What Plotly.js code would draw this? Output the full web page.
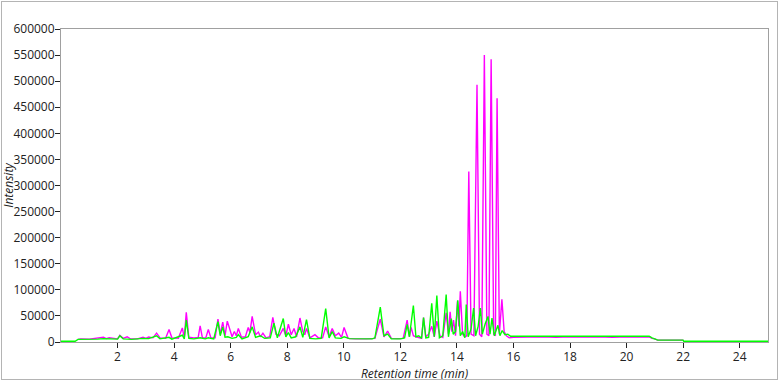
<!DOCTYPE html>
<html>
<head>
<meta charset="utf-8">
<script src="https://cdn.plot.ly/plotly-3.0.1.min.js"></script>
<style>
html,body{margin:0;padding:0;background:#fff;}
#wrap{position:relative;width:779px;height:382px;overflow:hidden;}
#chart{position:absolute;left:0;top:0;width:779px;height:382px;}
#frame{position:absolute;left:1px;top:1px;width:775px;height:377px;border:1px solid #b4b4b4;pointer-events:none;}
</style>
</head>
<body>
<div id="wrap"><div id="chart"></div><div id="frame"></div></div>
<script>
// Series 1 (magenta)
const magentaTime = [0.6,0.7,1.0,1.3,1.5,1.6,1.7,2.0,2.08,2.2,2.34,2.45,2.7,2.9,3.0,3.1,3.25,3.38,3.5,3.7,3.82,3.92,4.15,4.29,4.36,4.43,4.52,4.7,4.85,4.92,5.0,5.12,5.21,5.3,5.45,5.55,5.63,5.72,5.8,5.88,5.98,6.05,6.13,6.2,6.27,6.38,6.52,6.62,6.68,6.76,6.88,6.98,7.05,7.14,7.25,7.38,7.49,7.6,7.72,7.86,7.95,8.04,8.14,8.24,8.33,8.45,8.55,8.62,8.68,8.8,8.98,9.1,9.25,9.36,9.48,9.59,9.7,9.82,9.92,10.01,10.15,10.4,10.8,11.1,11.29,11.42,11.55,11.68,11.9,12.1,12.24,12.32,12.38,12.46,12.55,12.65,12.75,12.82,12.9,13.0,13.11,13.2,13.29,13.4,13.5,13.62,13.7,13.76,13.82,13.88,13.95,14.02,14.07,14.12,14.2,14.28,14.35,14.42,14.5,14.6,14.71,14.8,14.88,14.97,15.06,15.13,15.21,15.3,15.36,15.42,15.5,15.59,15.67,15.75,15.85,16.0,16.5,17.0,17.5,18.0,18.5,19.0,19.5,20.0,20.5,20.8,20.9,21.0,21.1,21.5,22.0];
const magentaIntensity = [5000,6000,5500,7000,9000,6500,8000,6000,13000,7000,10000,6000,6000,9000,7000,9500,8000,17000,8000,7000,24000,8000,7000,27000,8000,57000,9000,8000,8500,31000,8000,8000,24000,8000,8000,44000,15000,38000,12000,40000,20000,10000,20000,12000,26000,9000,10000,28000,18000,49000,14000,19000,10000,17000,8000,10000,47000,15000,12000,26000,12000,34000,14000,26000,10000,46000,20000,14000,26000,8000,14000,8000,8000,29000,10000,26000,12000,17000,9000,28000,7000,6000,6000,7000,44000,10000,21000,7000,6500,7000,42000,10000,28000,12000,10000,8000,7000,47000,10000,15000,30000,10000,40000,12000,9000,56000,15000,58000,20000,42000,12000,79000,30000,97000,15000,10000,12000,327000,15000,12000,493000,15000,10000,550000,15000,12000,542000,15000,12000,467000,15000,82000,20000,12000,8000,9000,9500,10000,9000,10000,9500,10000,9000,10000,9500,10000,7000,6000,3500,3500,3500];

// Series 2 (green)
const greenTime = [0,0.5,0.6,0.8,1.0,1.3,1.5,1.7,2.0,2.08,2.2,2.5,2.9,3.1,3.38,3.5,3.82,3.92,4.29,4.36,4.43,4.52,4.7,4.92,5.1,5.21,5.4,5.55,5.63,5.72,5.8,5.9,6.05,6.2,6.27,6.4,6.62,6.76,6.88,7.05,7.2,7.4,7.53,7.65,7.86,7.95,8.04,8.14,8.3,8.45,8.55,8.68,8.8,9.0,9.2,9.36,9.48,9.59,9.7,9.9,10.01,10.2,10.6,11.0,11.1,11.29,11.42,11.55,11.68,12.0,12.15,12.24,12.32,12.46,12.55,12.65,12.75,12.82,12.9,13.0,13.11,13.2,13.29,13.38,13.5,13.62,13.7,13.8,13.87,13.95,14.03,14.12,14.2,14.28,14.33,14.4,14.5,14.59,14.66,14.75,14.83,14.9,15.0,15.1,15.17,15.24,15.32,15.45,15.52,15.6,15.7,15.8,15.9,16.0,16.5,17.0,17.5,18.0,18.5,19.0,19.5,20.0,20.5,20.8,20.9,21.0,21.1,22.0,22.02,25.0];
const greenIntensity = [1500,1500,5000,5000,5500,5500,6500,6000,5500,12000,6000,5000,7000,6500,12000,6000,9000,5500,13000,6000,42000,7000,6000,8000,6000,8000,6000,39000,12000,29000,9000,10000,7000,9000,14000,6000,10000,29000,9000,12000,7000,8000,36000,8000,45000,10000,18000,8000,10000,29000,9000,43000,7000,6000,7000,64000,8000,20000,8000,7000,10000,6500,6000,6000,8000,67000,12000,15000,6000,6000,8000,34000,10000,70000,10000,12000,7000,47000,8000,9000,74000,10000,89000,8000,12000,91000,10000,45000,15000,20000,80000,12000,20000,8000,72000,10000,25000,65000,12000,30000,65000,15000,35000,49000,15000,46000,12000,32000,12000,22000,14000,15000,11000,11000,11000,10500,11000,11000,10500,11000,11000,10500,11000,11000,8000,6000,3500,3500,1500,1500];

// Axis ticks
const xTickValues = [2,4,6,8,10,12,14,16,18,20,22,24];
const yTickValues = [0,50000,100000,150000,200000,250000,300000,350000,400000,450000,500000,550000,600000];

const traces = [
  {x: magentaTime, y: magentaIntensity, type: 'scatter', mode: 'lines',
   line: {color: '#ff00ff', width: 1.4}, hoverinfo: 'skip'},
  {x: greenTime, y: greenIntensity, type: 'scatter', mode: 'lines',
   line: {color: '#00ff00', width: 1.4}, hoverinfo: 'skip'}
];

const axisColor = '#a0a0a0';
const fontFam = '"Open Sans", "Noto Sans", sans-serif';

const layout = {
  width: 779, height: 382,
  margin: {l: 61, r: 11, t: 29, b: 40, pad: 0},
  paper_bgcolor: '#ffffff', plot_bgcolor: '#ffffff',
  showlegend: false,
  font: {family: fontFam, size: 12, color: '#222'},
  xaxis: {
    range: [0, 25], tickmode: 'array', tickvals: xTickValues,
    ticks: 'outside', ticklen: 5, tickcolor: '#222', tickwidth: 1,
    showgrid: false, zeroline: false, showline: true, linecolor: axisColor, linewidth: 1, mirror: true,
    tickfont: {family: fontFam, size: 12, color: '#222'},
    ticklabelstandoff: -1,
    title: {text: '<i>Retention time (min)</i>', font: {family: fontFam, size: 12, color: '#222'}, standoff: -6},
    automargin: false
  },
  yaxis: {
    range: [0, 600000], tickmode: 'array', tickvals: yTickValues, tickformat: 'd',
    ticks: 'outside', ticklen: 5, tickcolor: '#222', tickwidth: 1,
    showgrid: false, zeroline: false, showline: true, linecolor: axisColor, linewidth: 1, mirror: true,
    tickfont: {family: fontFam, size: 12, color: '#222'},
    ticklabelstandoff: -2,
    title: {text: '<i>Intensity</i>', font: {family: fontFam, size: 12, color: '#222'}, standoff: 0},
    automargin: false
  }
};

Plotly.newPlot('chart', traces, layout, {displayModeBar: false, staticPlot: true});
</script>
</body>
</html>
